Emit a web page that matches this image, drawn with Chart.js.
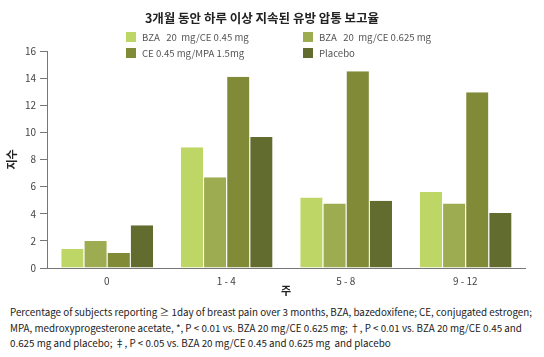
<!DOCTYPE html>
<html>
<head>
<meta charset="utf-8">
<script src="https://cdn.jsdelivr.net/npm/chart.js@4"></script>
<style>
  html, body { margin: 0; padding: 0; background: #fff; }
  #wrap { position: relative; width: 544px; height: 357px; overflow: hidden; background: #fff; }
  #chartBox { position: absolute; left: 0; top: 0; width: 544px; height: 300px; }
  #title { position: absolute; left: 0; top: 8px; width: 524px; text-align: center;
    font: bold 12.5px "Noto Sans CJK KR", sans-serif; color: #222; }
  .leg { position: absolute; font: 9.6px "Noto Sans CJK KR", "Noto Sans", sans-serif; color: #555; white-space: pre; line-height: 12px; }
  .leg i { position: absolute; left: -16px; top: 1px; width: 10px; height: 10px; }
  #note { position: absolute; left: 10px; top: 305px; font: 9.8px "Noto Sans CJK KR", sans-serif; color: #222;
    line-height: 15.5px; white-space: pre; }
</style>
</head>
<body>
<div id="wrap">
  <div id="chartBox"><canvas id="c"></canvas></div>
  <div id="title"></div>
  <div id="legend"></div>
  <div id="note"></div>
</div>
<script>
const titleText = "3개월 동안 하루 이상 지속된 유방 압통 보고율";
const categories = ["0", "1 - 4", "5 - 8", "9 - 12"];
const seriesNames = ["BZA   20  mg/CE 0.45 mg", "BZA   20  mg/CE 0.625 mg", "CE 0.45 mg/MPA 1.5mg", "Placebo"];
const bza045 = [1.4, 8.9, 5.2, 5.6];
const bza0625 = [2.0, 6.7, 4.75, 4.75];
const ceMpa = [1.1, 14.1, 14.5, 12.95];
const placebo = [3.15, 9.65, 4.95, 4.05];
const seriesColors = ["#bdd665", "#9dac51", "#808a37", "#636c2f"];
const yTitle = "지수";
const xTitle = "주";
const yTicks = [0, 2, 4, 6, 8, 10, 12, 14, 16];
const noteLines = [
  "Percentage of subjects reporting \u2265 1day of breast pain over 3 months, BZA, bazedoxifene; CE, conjugated estrogen;",
  "MPA, medroxyprogesterone acetate, *, P < 0.01 vs. BZA 20 mg/CE 0.625 mg; \u2020, P < 0.01 vs. BZA 20 mg/CE 0.45 and",
  "0.625 mg and placebo; \u2021, P < 0.05 vs. BZA 20 mg/CE 0.45 and 0.625 mg  and placebo"
];

document.getElementById('title').textContent = titleText;
document.getElementById('note').textContent = noteLines.join("\n");

const legendPos = [[142, 31], [319, 31], [142, 47], [319, 47]];
const legEl = document.getElementById('legend');
seriesNames.forEach((n, i) => {
  const d = document.createElement('div');
  d.className = 'leg';
  d.style.left = legendPos[i][0] + 'px';
  d.style.top = legendPos[i][1] + 'px';
  const sw = document.createElement('i');
  sw.style.background = seriesColors[i];
  d.appendChild(sw);
  d.appendChild(document.createTextNode(n));
  legEl.appendChild(d);
});

const values = [bza045, bza0625, ceMpa, placebo];
new Chart(document.getElementById('c'), {
  type: 'bar',
  data: {
    labels: categories,
    datasets: values.map((v, i) => ({
      label: seriesNames[i],
      data: v,
      backgroundColor: seriesColors[i],
      borderColor: '#ffffff',
      borderWidth: { left: 1, right: 0, top: 0, bottom: 0 },
      borderSkipped: false,
      categoryPercentage: 0.775,
      barPercentage: 1.0
    }))
  },
  options: {
    responsive: true,
    maintainAspectRatio: false,
    animation: false,
    layout: { padding: { top: 51, right: 19, left: 0, bottom: 0 } },
    plugins: { legend: { display: false }, title: { display: false }, tooltip: { enabled: false } },
    scales: {
      x: {
        afterFit: s => { s.height = 32; },
        grid: { display: false, drawTicks: false },
        border: { display: true, color: '#777', width: 1 },
        ticks: { padding: 7, color: '#444', font: { size: 10, family: '"Noto Sans CJK KR", sans-serif' } },
        title: { display: true, text: xTitle, color: '#222', padding: { top: 0, bottom: 3 },
          font: { size: 11, weight: 'bold', family: '"Noto Sans CJK KR", sans-serif' } }
      },
      y: {
        min: 0, max: 16,
        afterFit: s => { s.width = 47; },
        afterBuildTicks: s => { s.ticks = yTicks.map(v => ({ value: v })); },
        grid: { drawOnChartArea: false, drawTicks: true, tickLength: 7, color: '#777' },
        border: { display: true, color: '#777', width: 1 },
        ticks: { padding: 4, color: '#444', font: { size: 10, family: '"Noto Sans CJK KR", sans-serif' } },
        title: { display: true, text: yTitle, color: '#222', padding: { top: 5, bottom: 0 },
          font: { size: 11, weight: 'bold', family: '"Noto Sans CJK KR", sans-serif' } }
      }
    }
  }
});
</script>
</body>
</html>
